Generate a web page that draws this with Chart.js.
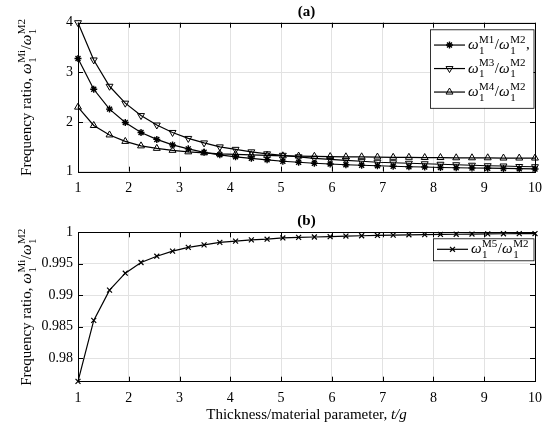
<!DOCTYPE html>
<html>
<head>
<meta charset="utf-8">
<script src="https://cdn.jsdelivr.net/npm/chart.js@4.4.1/dist/chart.umd.min.js"></script>
<style>
  html, body { margin: 0; padding: 0; background: #fff; }
  canvas { display: block; }
</style>
</head>
<body>
<canvas id="chartA" width="550" height="215"></canvas>
<canvas id="chartB" width="550" height="216"></canvas>
<script>
// thickness/material parameter t/g (30 samples)
var tg = [1.000, 1.310, 1.621, 1.931, 2.241, 2.552, 2.862, 3.172, 3.483, 3.793,
          4.103, 4.414, 4.724, 5.034, 5.345, 5.655, 5.966, 6.276, 6.586, 6.897,
          7.207, 7.517, 7.828, 8.138, 8.448, 8.759, 9.069, 9.379, 9.690, 10.000];

// (a) frequency ratios
var ratioM1 = [3.28, 2.66, 2.26, 1.99, 1.79, 1.65, 1.54, 1.46, 1.39, 1.34,
               1.30, 1.27, 1.24, 1.21, 1.19, 1.17, 1.155, 1.14, 1.13, 1.12,
               1.11, 1.10, 1.095, 1.085, 1.08, 1.075, 1.07, 1.065, 1.06, 1.055];
var ratioM3 = [4.00, 3.25, 2.72, 2.38, 2.13, 1.94, 1.79, 1.67, 1.58, 1.50,
               1.45, 1.40, 1.36, 1.33, 1.30, 1.27, 1.25, 1.23, 1.21, 1.19,
               1.18, 1.17, 1.16, 1.15, 1.14, 1.13, 1.12, 1.115, 1.105, 1.10];
var ratioM4 = [2.30, 1.93, 1.74, 1.61, 1.52, 1.47, 1.43, 1.40, 1.38, 1.36,
               1.35, 1.34, 1.33, 1.32, 1.315, 1.31, 1.305, 1.30, 1.30, 1.295,
               1.29, 1.29, 1.285, 1.285, 1.28, 1.28, 1.28, 1.275, 1.275, 1.275];

// (b) frequency ratio
var ratioM5 = [0.9763, 0.9860, 0.9908, 0.9935, 0.9952, 0.9962, 0.9970, 0.9976, 0.9980, 0.9984,
               0.9986, 0.9988, 0.9989, 0.9991, 0.9992, 0.99925, 0.9993, 0.9994, 0.99945, 0.9995,
               0.99955, 0.9996, 0.99963, 0.99966, 0.99969, 0.99972, 0.99975, 0.99977, 0.99979, 0.9998];

var xTicks = [1, 2, 3, 4, 5, 6, 7, 8, 9, 10];
var yTicksA = [1, 2, 3, 4];
var yTicksB = [0.98, 0.985, 0.99, 0.995, 1];

var serif = "'Liberation Serif', 'Times New Roman', serif";
Chart.defaults.font.family = serif;
Chart.defaults.color = '#000';

function pts(ys) {
  return tg.map(function (x, i) { return { x: x, y: ys[i] }; });
}

// text with stacked sub/superscripts, e.g. omega_1^M1
function omega(sup, tail) {
  var parts = [{ text: '\u03c9', italic: true, sup: sup, sub: '1' }];
  return parts;
}
function ratioLabel(num, comma) {
  var p = omega(num).concat([{ text: '/' }], omega('M2'));
  if (comma) p.push({ text: ',' });
  return p;
}

function measureRich(ctx, parts, size) {
  var w = 0;
  parts.forEach(function (p) {
    ctx.font = (p.italic ? 'italic ' : '') + size + 'px ' + serif;
    w += ctx.measureText(p.text).width;
    if (p.sup || p.sub) {
      ctx.font = Math.round(size * 0.72) + 'px ' + serif;
      w += Math.max(ctx.measureText(p.sup || '').width, ctx.measureText(p.sub || '').width) + 1;
    }
  });
  return w;
}

function drawRich(ctx, parts, x, y, size, align) {
  var cx = align === 'center' ? x - measureRich(ctx, parts, size) / 2 : x;
  ctx.textAlign = 'left';
  ctx.textBaseline = 'alphabetic';
  parts.forEach(function (p) {
    ctx.font = (p.italic ? 'italic ' : '') + size + 'px ' + serif;
    ctx.fillText(p.text, cx, y);
    cx += ctx.measureText(p.text).width;
    if (p.sup || p.sub) {
      ctx.font = Math.round(size * 0.72) + 'px ' + serif;
      var sw = Math.max(ctx.measureText(p.sup || '').width, ctx.measureText(p.sub || '').width);
      ctx.fillText(p.sup || '', cx + 0.5, y - size * 0.42);
      ctx.fillText(p.sub || '', cx + 0.5, y + size * 0.3);
      cx += sw + 1;
    }
  });
}

var yTitle = [{ text: 'Frequency ratio, ' }].concat(omega('Mi'), [{ text: '/' }], omega('M2'));
var xTitle = [{ text: 'Thickness/material parameter, ' }, { text: 't/g', italic: true }];

// MATLAB-like box, inward ticks, panel title, rich axis titles and legend
var framePlugin = {
  id: 'frame',
  afterDraw: function (chart, args, opts) {
    var ctx = chart.ctx, a = chart.chartArea;
    var xs = chart.scales.x, ys = chart.scales.y;
    ctx.save();
    ctx.strokeStyle = '#000';
    ctx.fillStyle = '#000';
    ctx.lineWidth = 1;

    ctx.beginPath();
    xs.ticks.forEach(function (t) {
      var px = Math.round(xs.getPixelForValue(t.value)) + 0.5;
      ctx.moveTo(px, a.bottom); ctx.lineTo(px, a.bottom - 5);
      ctx.moveTo(px, a.top); ctx.lineTo(px, a.top + 5);
    });
    ys.ticks.forEach(function (t) {
      var py = Math.round(ys.getPixelForValue(t.value)) + 0.5;
      ctx.moveTo(a.left, py); ctx.lineTo(a.left + 5, py);
      ctx.moveTo(a.right, py); ctx.lineTo(a.right - 5, py);
    });
    ctx.stroke();
    ctx.strokeRect(Math.round(a.left) + 0.5, Math.round(a.top) + 0.5,
                   Math.round(a.right - a.left), Math.round(a.bottom - a.top));

    ctx.font = 'bold 15px ' + serif;
    ctx.textAlign = 'center';
    ctx.fillText(opts.title, (a.left + a.right) / 2, a.top - 7);

    ctx.save();
    ctx.translate(31, (a.top + a.bottom) / 2);
    ctx.rotate(-Math.PI / 2);
    drawRich(ctx, yTitle, 0, 0, 15, 'center');
    ctx.restore();

    if (opts.xTitle) {
      drawRich(ctx, xTitle, (a.left + a.right) / 2, a.bottom + 37, 15, 'center');
    }

    // legend
    var lg = opts.legend;
    var bx = lg.left, by = a.top + lg.top, bw = a.right - 1.5 - lg.left;
    var bh = lg.rowH * lg.items.length + lg.pad * 2;
    ctx.fillStyle = '#fff';
    ctx.fillRect(bx, by, bw, bh);
    ctx.lineWidth = 0.8;
    ctx.strokeRect(bx + 0.5, by + 0.5, bw, bh);
    lg.items.forEach(function (it, i) {
      var ry = by + lg.pad + lg.rowH * (i + 0.5);
      var ds = chart.data.datasets[it.ds];
      ctx.strokeStyle = '#000';
      ctx.lineWidth = 1.2;
      ctx.beginPath();
      ctx.moveTo(bx + 4, ry); ctx.lineTo(bx + 35, ry);
      ctx.stroke();
      ctx.fillStyle = ds.pointBackgroundColor;
      ctx.lineWidth = ds.pointBorderWidth;
      Chart.helpers.drawPoint(ctx, {
        pointStyle: ds.pointStyle, radius: ds.pointRadius,
        rotation: ds.pointRotation || 0, borderWidth: ds.pointBorderWidth
      }, bx + 19.5, ry);
      ctx.fillStyle = '#000';
      drawRich(ctx, it.label, bx + 38, ry + 4, 15, 'left');
    });
    ctx.restore();
  }
};

function axes(yMin, yMax, yTicks, xHeight) {
  return {
    x: {
      type: 'linear', min: 1, max: 10,
      afterBuildTicks: function (s) { s.ticks = xTicks.map(function (v) { return { value: v }; }); },
      afterFit: function (s) { s.height = xHeight; },
      grid: { color: '#e2e2e2', drawTicks: false },
      border: { display: false },
      ticks: { padding: 8, font: { size: 14 }, maxRotation: 0 }
    },
    y: {
      type: 'linear', min: yMin, max: yMax,
      afterBuildTicks: function (s) { s.ticks = yTicks.map(function (v) { return { value: v }; }); },
      afterFit: function (s) { s.width = 78; },
      grid: { color: '#e2e2e2', drawTicks: false },
      border: { display: false },
      ticks: {
        padding: 5, font: { size: 14 },
        callback: function (v) { return String(+(+v).toFixed(3)); }
      }
    }
  };
}

function series(ys, style, radius, rotation, fill, bw) {
  return {
    data: pts(ys),
    borderColor: '#000',
    borderWidth: 1.2,
    pointStyle: style,
    pointRadius: radius,
    pointRotation: rotation,
    pointBorderColor: '#000',
    pointBackgroundColor: fill,
    pointBorderWidth: bw,
    tension: 0,
    clip: false
  };
}

new Chart(document.getElementById('chartA'), {
  type: 'line',
  data: {
    datasets: [
      series(ratioM1, 'star', 3.5, 0, '#000', 1.4),
      series(ratioM3, 'triangle', 4, 180, 'rgba(255,255,255,0)', 1),
      series(ratioM4, 'triangle', 4, 0, 'rgba(255,255,255,0)', 1)
    ]
  },
  options: {
    responsive: false,
    animation: false,
    layout: { padding: { top: 22.7, right: 13, left: 0, bottom: 0 } },
    scales: axes(1, 4, yTicksA, 43.3),
    plugins: {
      legend: { display: false },
      tooltip: { enabled: false },
      frame: {
        title: '(a)',
        xTitle: false,
        legend: {
          left: 430, top: 6.6, rowH: 23.5, pad: 4,
          items: [
            { ds: 0, label: ratioLabel('M1', true) },
            { ds: 1, label: ratioLabel('M3') },
            { ds: 2, label: ratioLabel('M4') }
          ]
        }
      }
    }
  },
  plugins: [framePlugin]
});

new Chart(document.getElementById('chartB'), {
  type: 'line',
  data: {
    datasets: [
      series(ratioM5, 'crossRot', 3.5, 0, '#000', 1.2)
    ]
  },
  options: {
    responsive: false,
    animation: false,
    layout: { padding: { top: 17.3, right: 13, left: 0, bottom: 0 } },
    scales: axes(0.97625, 1, yTicksB, 49.3),
    plugins: {
      legend: { display: false },
      tooltip: { enabled: false },
      frame: {
        title: '(b)',
        xTitle: true,
        legend: {
          left: 433, top: 6, rowH: 22, pad: 0,
          items: [
            { ds: 0, label: ratioLabel('M5') }
          ]
        }
      }
    }
  },
  plugins: [framePlugin]
});
</script>
</body>
</html>
